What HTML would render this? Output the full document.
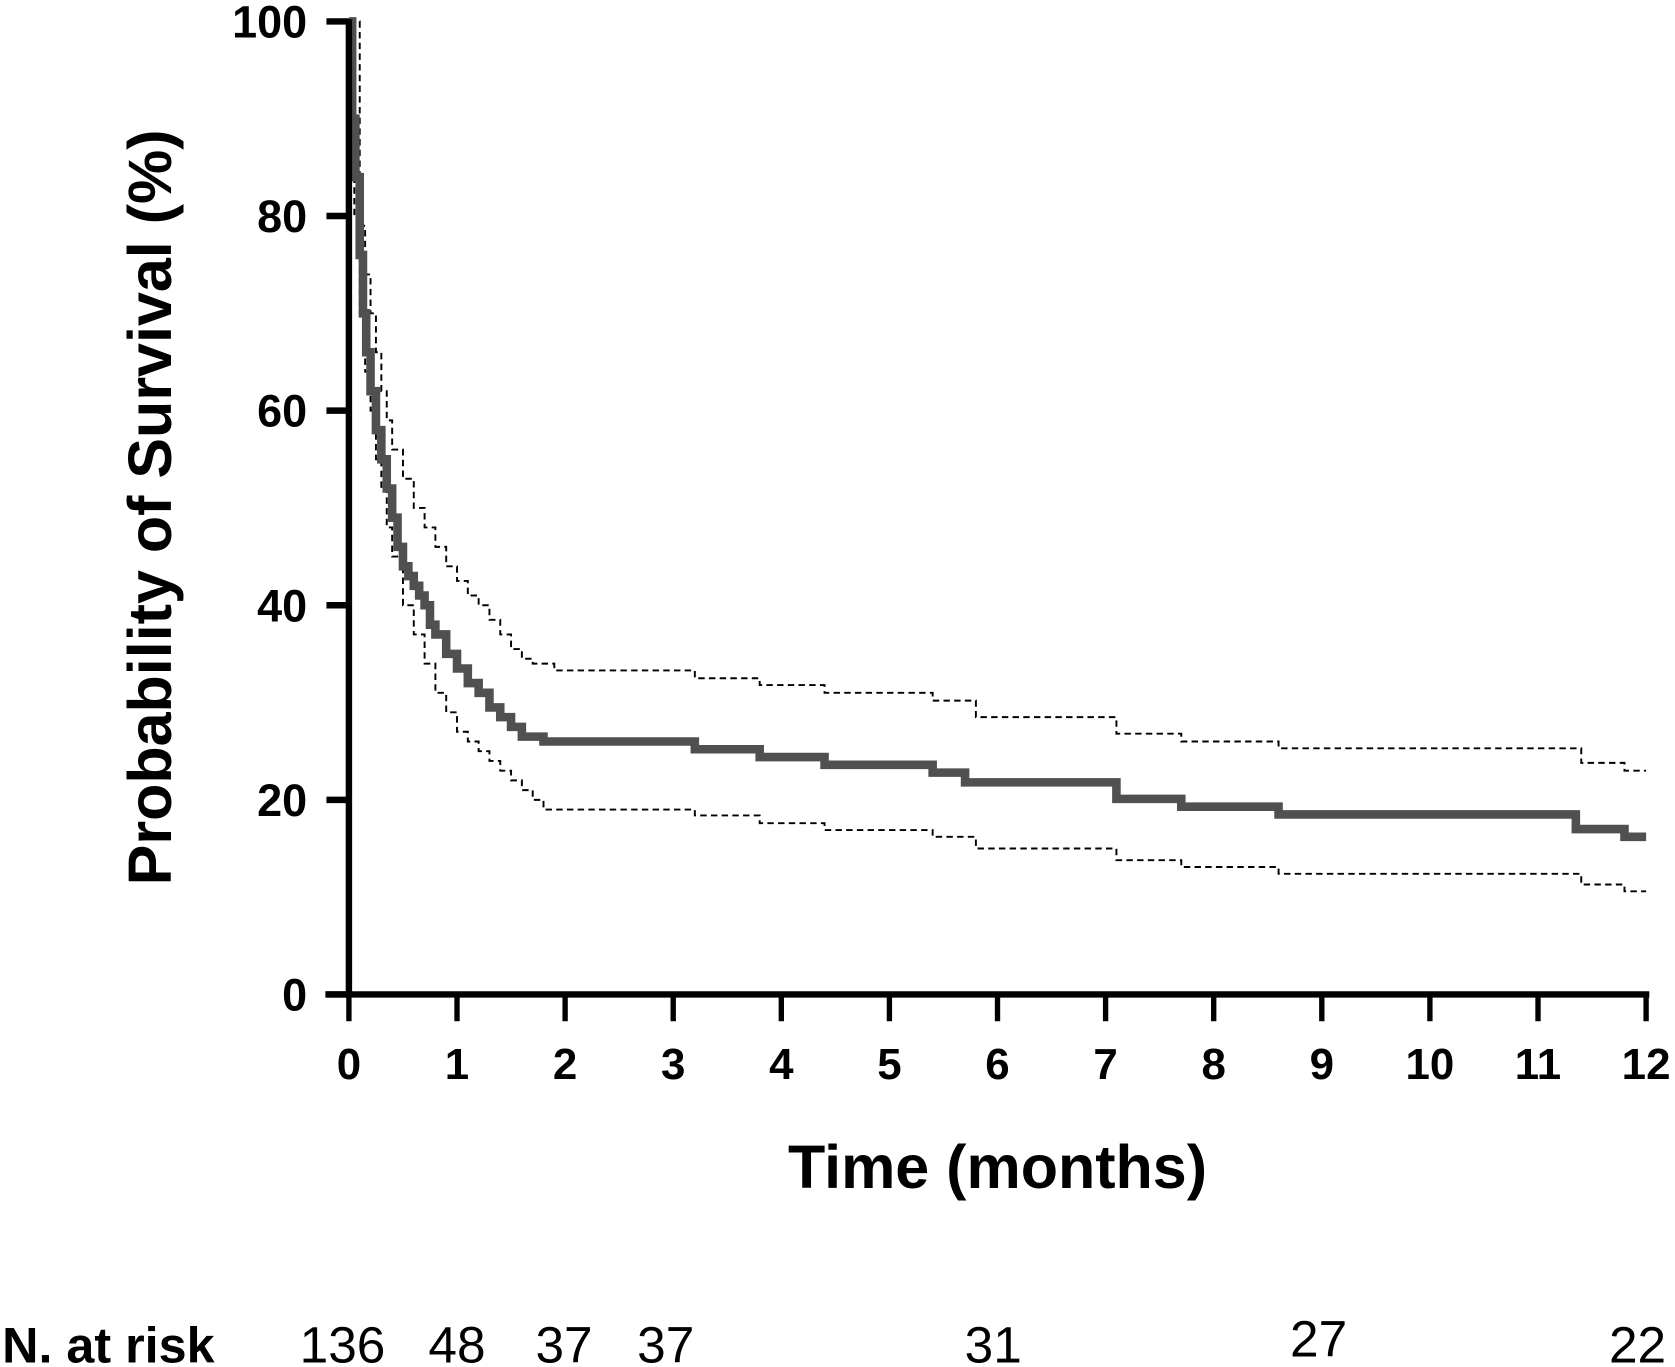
<!DOCTYPE html>
<html><head><meta charset="utf-8"><style>
body{margin:0;background:#fff}
svg{display:block}
text{font-family:"Liberation Sans",Arial,sans-serif}
</style></head><body>
<svg id="chart" width="1675" height="1367" viewBox="0 0 1565 1277" preserveAspectRatio="none" xmlns="http://www.w3.org/2000/svg"></svg>
<script>
const survT=[0,0.03,0.06,0.1,0.13,0.16,0.2,0.25,0.3,0.35,0.4,0.45,0.5,0.55,0.6,0.65,0.7,0.75,0.8,0.9,1.0,1.1,1.2,1.3,1.4,1.5,1.6,1.8,3.2,3.8,4.4,5.4,5.7,7.1,7.7,8.6,11.35,11.8,12];
const survV=[100,90,84,76,70,66,62,58,55,52,49,46,44,43,42,41,40,38,37,35,33.5,32,31,29.5,28.5,27.5,26.5,26,25.2,24.4,23.6,22.8,21.8,20.1,19.3,18.5,17.0,16.2,16.2];
const upT=[0,0.1,0.15,0.2,0.25,0.3,0.35,0.4,0.5,0.6,0.7,0.8,0.9,1.0,1.1,1.2,1.3,1.4,1.5,1.6,1.7,1.9,3.2,3.8,4.4,5.4,5.8,7.1,7.7,8.6,11.4,11.8,12];
const upV=[100,79,74,70,66,62,59,56,53,50,48,46,44,42.5,41,40,38.5,37,35.5,34.5,34,33.3,32.5,31.8,31,30.2,28.5,26.8,26,25.3,23.8,23,23];
const loT=[0,0.05,0.1,0.15,0.2,0.25,0.3,0.35,0.4,0.5,0.6,0.7,0.8,0.9,1.0,1.1,1.2,1.3,1.4,1.5,1.6,1.7,1.8,3.2,3.8,4.4,5.4,5.8,7.1,7.7,8.6,11.4,11.8,12];
const loV=[100,80,70,64,60,55,52,48,45,40,37,34,31,29,27,26,25,24,23,22,21,20,19,18.4,17.6,16.9,16.2,15,13.8,13.1,12.4,11.3,10.6,10.6];
const xTicks=[0,1,2,3,4,5,6,7,8,9,10,11,12];
const yTicks=[0,20,40,60,80,100];
const riskN=[136,48,37,37,31,27,22];
const riskX=[320,427,527,622,928,1232,1530];

const svg=document.getElementById('chart');const NS='http://www.w3.org/2000/svg';
const X=t=>326+101*t, Y=v=>929-9.09*v;
function mk(tag,attrs,txt){const e=document.createElementNS(NS,tag);for(const k in attrs)e.setAttribute(k,attrs[k]);if(txt!==undefined)e.textContent=txt;svg.appendChild(e);return e;}
function step(ts,vs){let d='M'+X(ts[0])+','+Y(vs[0]);for(let i=1;i<ts.length;i++){d+=' H'+X(ts[i])+' V'+Y(vs[i]);}return d;}
let e;
e=mk('path',{d:step(upT,upV),fill:'none',stroke:'#000','stroke-width':1.8,'stroke-dasharray':'6,4'});


e=mk('path',{d:step(loT,loV),fill:'none',stroke:'#000','stroke-width':1.8,'stroke-dasharray':'6,4'});


e=mk('path',{d:step(survT,survV),fill:'none',stroke:'#505050','stroke-width':8});


e=mk('line',{x1:326,y1:Y(100)-2,x2:326,y2:932,stroke:'#000','stroke-width':6});


e=mk('line',{x1:304,y1:929,x2:X(12)+3,y2:929,stroke:'#000','stroke-width':6});


yTicks.forEach(v=>{
 e=mk('line',{x1:305,y1:Y(v),x2:326,y2:Y(v),stroke:'#000','stroke-width':6});
 
 
 e=mk('text',{x:287,y:Y(v)+15,'text-anchor':'end','font-size':42,'font-weight':'bold'},v);
 
 
});
xTicks.forEach(t=>{
 e=mk('line',{x1:X(t),y1:929,x2:X(t),y2:954,stroke:'#000','stroke-width':5});
 
 
 e=mk('text',{x:X(t),y:1008,'text-anchor':'middle','font-size':41,'font-weight':'bold'},t);
 
 
});
e=mk('text',{x:932,y:1110,'text-anchor':'middle','font-size':57,'font-weight':'bold'},'Time (months)');


e=mk('text',{x:160,y:474,'text-anchor':'middle','font-size':57,'font-weight':'bold',transform:'rotate(-90 160 474)'},'Probability of Survival (%)');


e=mk('text',{x:2,y:1273,'font-size':47,'font-weight':'bold'},'N. at risk');


riskN.forEach((n,i)=>{
 e=mk('text',{x:riskX[i],y:i===5?1267:1273,'text-anchor':'middle','font-size':48},n);
 
 
});
</script>
</body></html>
